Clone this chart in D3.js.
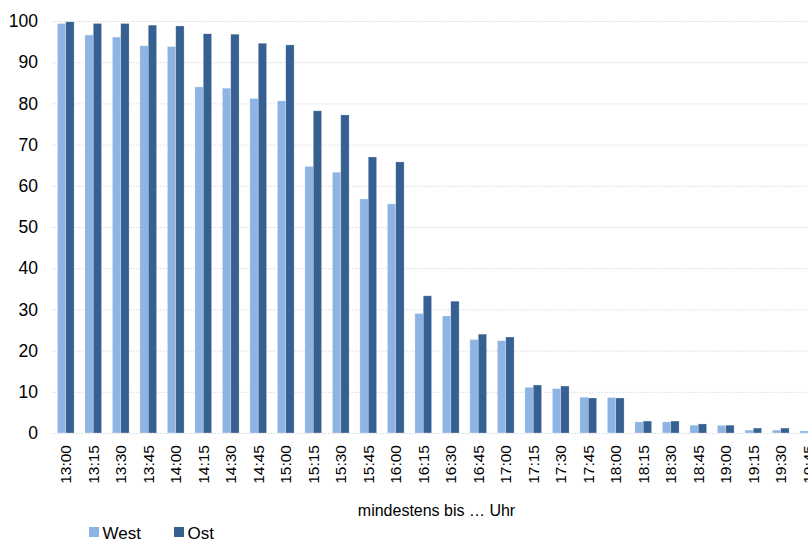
<!DOCTYPE html>
<html><head><meta charset="utf-8">
<script src="https://cdn.jsdelivr.net/npm/d3@7/dist/d3.min.js"></script>
<style>html,body{margin:0;padding:0;background:#fff;overflow:hidden;}svg{display:block;font-family:"Liberation Sans",Arial,sans-serif;}</style>
</head><body>
<script>
const categories = ["13:00","13:15","13:30","13:45","14:00","14:15","14:30","14:45","15:00","15:15","15:30","15:45","16:00","16:15","16:30","16:45","17:00","17:15","17:30","17:45","18:00","18:15","18:30","18:45","19:00","19:15","19:30","19:45"];
const west = [99.4,96.6,96.1,94.0,93.8,84.0,83.7,81.2,80.6,64.7,63.3,56.8,55.6,29.0,28.4,22.7,22.4,11.1,10.8,8.7,8.6,2.7,2.7,1.9,1.85,0.7,0.7,0.5];
const ost  = [99.8,99.4,99.4,99.0,98.8,96.9,96.8,94.6,94.2,78.2,77.2,67.0,65.8,33.3,32.0,24.0,23.3,11.65,11.4,8.5,8.5,2.9,2.9,2.2,1.9,1.2,1.2,1.0];
const seriesNames = ["West","Ost"];
const yTicks = [0,10,20,30,40,50,60,70,80,90,100];
const xTitle = "mindestens bis … Uhr";
const colors = {West:"#8EB4E3", Ost:"#376092"};

const W = 808, H = 539;
const svg = d3.select("body").append("svg").attr("width", W).attr("height", H);

const x0 = d3.scaleBand().domain(categories).range([52, 822]).padding(0);
const x1 = d3.scaleBand().domain(seriesNames).range([0, x0.bandwidth()]).paddingInner(0).paddingOuter(0.645);
const y = d3.scaleLinear().domain([0, 100]).range([433, 21]);

// gridlines
svg.append("g").selectAll("line").data(yTicks).join("line")
  .attr("x1", 52).attr("x2", 822)
  .attr("y1", d => y(d) + 0.5).attr("y2", d => y(d) + 0.5)
  .attr("stroke", "#D9D9D9").attr("stroke-width", 1).attr("stroke-dasharray", "1.5,1.5");

// y axis labels
const yAxis = d3.axisLeft(y).tickValues(yTicks).tickSize(0).tickPadding(0);
const gy = svg.append("g").attr("transform", "translate(38,0)").call(yAxis);
gy.select(".domain").remove();
gy.selectAll("text").attr("font-size", 17.5).attr("fill", "#000").attr("font-family", "Liberation Sans, Arial, sans-serif");

// bars
const data = categories.map((c, i) => ({cat: c, West: west[i], Ost: ost[i]}));
const groups = svg.append("g").selectAll("g").data(data).join("g")
  .attr("transform", d => `translate(${x0(d.cat)},0)`);
groups.selectAll("rect").data(d => seriesNames.map(s => ({s, v: d[s]}))).join("rect")
  .attr("x", d => x1(d.s))
  .attr("width", x1.bandwidth())
  .attr("y", d => y(d.v))
  .attr("height", d => y(0) - y(d.v))
  .attr("fill", d => colors[d.s])
  .attr("stroke", "rgba(255,255,255,0.45)").attr("stroke-width", 0.6);

// x axis labels
const xAxis = d3.axisBottom(x0).tickSize(0).tickPadding(0);
const gx = svg.append("g").attr("transform", "translate(0,445)").call(xAxis);
gx.select(".domain").remove();
gx.selectAll("text")
  .attr("font-size", 15.5).attr("fill", "#000").attr("font-family", "Liberation Sans, Arial, sans-serif")
  .attr("transform", "rotate(-90)")
  .attr("text-anchor", "end")
  .attr("x", 0).attr("y", 0).attr("dy", "0.35em");

// axis title
svg.append("text").attr("x", 436.5).attr("y", 516).attr("text-anchor", "middle")
  .attr("font-size", 16).attr("fill", "#000").text(xTitle);

// legend
const leg = svg.append("g");
const legX = [89, 174];
seriesNames.forEach((s, i) => {
  leg.append("rect").attr("x", legX[i]).attr("y", 527).attr("width", 10).attr("height", 10).attr("fill", colors[s]);
  leg.append("text").attr("x", legX[i] + 13.5).attr("y", 538.5).attr("font-size", 17).attr("fill", "#000").text(s);
});
</script>
</body></html>
